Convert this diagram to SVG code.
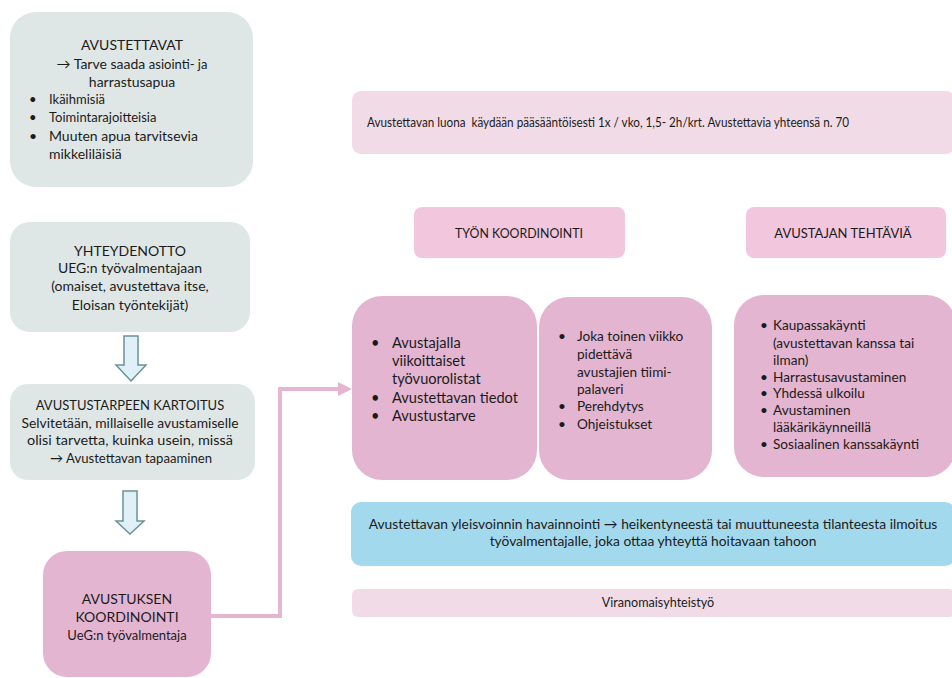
<svg xmlns="http://www.w3.org/2000/svg" width="952" height="678" viewBox="0 0 952 678">
<style>
text{font-family:Lato,"Noto Sans","Liberation Sans",sans-serif;fill:#1b1b1b;}
.c{text-anchor:middle;}
.grey{fill:#dfe7e6;}
.pinkbox{fill:#e4b5d1;}
.head{fill:#f2c6dd;}
.light{fill:#f1dbe7;}
.blue{fill:#a3d9ed;}
.darrow{fill:#dff0f8;stroke:#6a9294;stroke-width:1.5;}
.conn{fill:none;stroke:#e6b6d1;stroke-width:4;}
.s13{font-size:13px;}
.s135{font-size:13.6px;}
.s14{font-size:14px;}
.s15{font-size:14.6px;}
</style>
<defs>
<marker id="ah" markerUnits="userSpaceOnUse" markerWidth="14" markerHeight="14" refX="2" refY="7" orient="auto">
<path d="M0,0 L14,7 L0,14 Z" fill="#e6b6d1"/>
</marker>
</defs>

<g id="connectors">
<polygon class="darrow" points="124,336 138,336 138,365 146,365 131,381 116,365 124,365"/>
<polygon class="darrow" points="123,491 137,491 137,521 144,521 130,534 116,521 123,521"/>
<path class="conn" d="M211,616 L280,616 L280,389 L340,389" marker-end="url(#ah)"/>
</g>

<g id="avustettavat">
<rect class="grey" x="10" y="12" width="243" height="175" rx="26"/>
<text class="c s14" x="132" y="50">AVUSTETTAVAT</text>
<text class="c s14" x="132" y="69">→ Tarve saada <tspan font-size="13">asiointi- ja</tspan></text>
<text class="c s14" x="132" y="87">harrastusapua</text>
<text class="s13" x="29" y="104">•</text><text class="s13" x="49" y="104">Ikäihmisiä</text>
<text class="s13" x="29" y="122">•</text><text class="s13" x="49" y="122">Toimintarajoitteisia</text>
<text class="s14" x="29" y="141">•</text><text class="s14" x="49" y="141">Muuten apua tarvitsevia</text>
<text class="s14" x="49" y="159">mikkeliläisiä</text>
</g>

<g id="yhteydenotto">
<rect class="grey" x="10" y="222" width="240" height="110" rx="20"/>
<text class="c s14" x="130" y="256">YHTEYDENOTTO</text>
<text class="c s14" x="130" y="273">UEG:n työvalmentajaan</text>
<text class="c s14" x="130" y="291">(omaiset, avustettava itse,</text>
<text class="c s14" x="130" y="310">Eloisan työntekijät)</text>
</g>

<g id="kartoitus">
<rect class="grey" x="10" y="384" width="245" height="96" rx="18"/>
<text class="c s13" x="130" y="410">AVUSTUSTARPEEN KARTOITUS</text>
<text class="c s13" x="130" y="428" textLength="217" lengthAdjust="spacingAndGlyphs">Selvitetään, millaiselle avustamiselle</text>
<text class="c s13" x="130" y="445" textLength="206" lengthAdjust="spacingAndGlyphs">olisi tarvetta, kuinka usein, missä</text>
<text class="c s13" x="131" y="463" textLength="162" lengthAdjust="spacingAndGlyphs">→ Avustettavan tapaaminen</text>
</g>

<g id="avustuksen-koordinointi">
<rect class="pinkbox" x="43" y="551" width="168" height="126" rx="24"/>
<text class="c s14" x="127" y="604">AVUSTUKSEN</text>
<text class="c s14" x="127" y="622">KOORDINOINTI</text>
<text class="c s13" x="127" y="640">UeG:n työvalmentaja</text>
</g>

<g id="kaynnit">
<rect class="light" x="352" y="91" width="603" height="63" rx="9"/>
<text class="c s13" x="608" y="127" textLength="482" lengthAdjust="spacingAndGlyphs" style="white-space:pre" xml:space="preserve">Avustettavan luona  käydään pääsääntöisesti 1x / vko, 1,5- 2h/krt. Avustettavia yhteensä n. 70</text>
</g>

<g id="tyon-koordinointi">
<rect class="head" x="414" y="207" width="211" height="51" rx="8"/>
<text class="c s13" x="519" y="238" textLength="128" lengthAdjust="spacingAndGlyphs">TYÖN KOORDINOINTI</text>
</g>

<g id="avustajan-tehtavia">
<rect class="head" x="746" y="207" width="200" height="51" rx="8"/>
<text class="c s13" x="843" y="238">AVUSTAJAN TEHTÄVIÄ</text>
</g>

<g id="tyovuorot">
<rect class="pinkbox" x="352" y="296" width="185" height="184" rx="30"/>
<text class="s15" x="371" y="348">•</text><text class="s15" x="392" y="348">Avustajalla</text>
<text class="s15" x="392" y="366">viikoittaiset</text>
<text class="s15" x="392" y="384">työvuorolistat</text>
<text class="s15" x="371" y="403">•</text><text class="s15" x="392" y="403">Avustettavan tiedot</text>
<text class="s15" x="371" y="421">•</text><text class="s15" x="392" y="421">Avustustarve</text>
</g>

<g id="palaveri">
<rect class="pinkbox" x="539" y="297" width="173" height="183" rx="30"/>
<text class="s135" x="558" y="341">•</text><text class="s135" x="577" y="341">Joka toinen viikko</text>
<text class="s135" x="577" y="359">pidettävä</text>
<text class="s135" x="577" y="377">avustajien tiimi-</text>
<text class="s135" x="577" y="394">palaveri</text>
<text class="s135" x="558" y="411">•</text><text class="s135" x="577" y="411">Perehdytys</text>
<text class="s135" x="558" y="429">•</text><text class="s135" x="577" y="429">Ohjeistukset</text>
</g>

<g id="tehtavat">
<rect class="pinkbox" x="734" y="295" width="222" height="182" rx="30"/>
<text class="s135" x="760" y="330">•</text><text class="s135" x="773" y="330">Kaupassakäynti</text>
<text class="s135" x="773" y="348">(avustettavan kanssa tai</text>
<text class="s135" x="773" y="365">ilman)</text>
<text class="s135" x="760" y="382">•</text><text class="s135" x="773" y="382">Harrastusavustaminen</text>
<text class="s135" x="760" y="398">•</text><text class="s135" x="773" y="398">Yhdessä ulkoilu</text>
<text class="s135" x="760" y="415">•</text><text class="s135" x="773" y="415">Avustaminen</text>
<text class="s135" x="773" y="432">lääkärikäynneillä</text>
<text class="s135" x="760" y="449">•</text><text class="s135" x="773" y="449">Sosiaalinen kanssakäynti</text>
</g>

<g id="havainnointi">
<rect class="blue" x="351" y="502" width="604" height="64" rx="10"/>
<text class="c" x="653" y="529" font-size="13.8">Avustettavan yleisvoinnin havainnointi → heikentyneestä tai muuttuneesta tilanteesta ilmoitus</text>
<text class="c" x="653" y="546" font-size="13.8">työvalmentajalle, joka ottaa yhteyttä hoitavaan tahoon</text>
</g>

<g id="viranomaisyhteistyo">
<rect class="light" x="352" y="589" width="603" height="28" rx="6"/>
<text class="c" x="658" y="607" font-size="12.6">Viranomaisyhteistyö</text>
</g>
</svg>
